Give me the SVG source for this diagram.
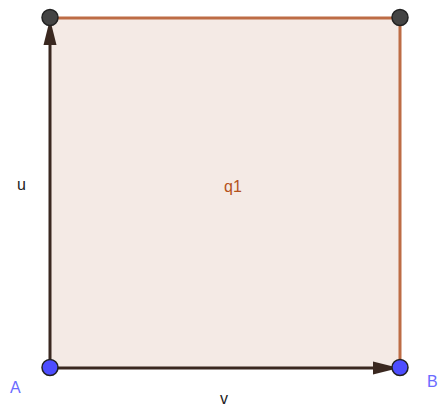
<svg xmlns="http://www.w3.org/2000/svg" width="439" height="408" viewBox="0 0 439 408">
  <style>
    .edge { stroke: #bd6c45; stroke-width: 3; fill: none; }
    .vec { stroke: #3a2820; stroke-width: 3; fill: none; }
    .head { fill: #3a2820; }
    .pt-dark { fill: #444444; stroke: #222222; stroke-width: 1.5; }
    .pt-blue { fill: #4d4dff; stroke: #222222; stroke-width: 1.5; }
    .lbl { font-family: "Liberation Sans", Arial, sans-serif; font-size: 16px; }
    .blue { fill: #6b6bff; }
  </style>
  <g id="q1">
    <rect x="50" y="18" width="350" height="350" fill="#f4eae5" stroke="none"/>
    <polyline class="edge" points="50,18 400,18 400,368"/>
    <text class="lbl" x="224" y="192" fill="#b5521c">q1</text>
  </g>
  <g id="connectors">
    <line class="vec" x1="50" y1="368" x2="50" y2="40"/>
    <polygon class="head" points="50,19 56.5,45 43.5,45"/>
    <line class="vec" x1="50" y1="368" x2="378" y2="368"/>
    <polygon class="head" points="399,368 373,361.5 373,374.5"/>
  </g>
  <g id="u-label"><text class="lbl" x="17" y="190" fill="#222">u</text></g>
  <g id="v-label"><text class="lbl" x="220" y="404" fill="#222">v</text></g>
  <g id="P1"><circle class="pt-dark" cx="50" cy="17.5" r="8"/></g>
  <g id="P2"><circle class="pt-dark" cx="400" cy="17.5" r="8"/></g>
  <g id="A">
    <circle class="pt-blue" cx="50" cy="367.5" r="8"/>
    <text class="lbl blue" x="10" y="393">A</text>
  </g>
  <g id="B">
    <circle class="pt-blue" cx="400" cy="367.5" r="8"/>
    <text class="lbl blue" x="427" y="387">B</text>
  </g>
</svg>
